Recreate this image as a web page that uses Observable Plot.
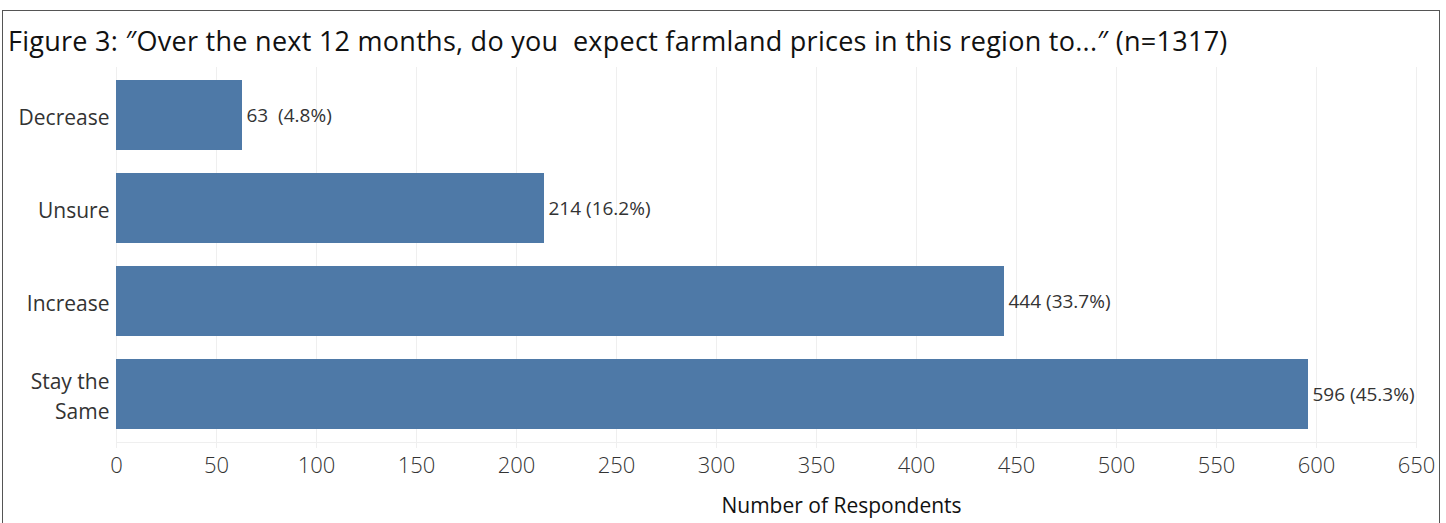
<!DOCTYPE html>
<html>
<head>
<meta charset="utf-8">
<script src="https://cdn.jsdelivr.net/npm/d3@7"></script>
<script src="https://cdn.jsdelivr.net/npm/@observablehq/plot@0.6"></script>
<style>
  html, body { margin: 0; padding: 0; background: #fff; overflow: hidden; }
  body { width: 1446px; height: 523px; position: relative; font-family: "Open Sans", sans-serif; }
  #box { position: absolute; left: 2px; top: 10px; width: 1438px; height: 600px; border: 1.5px solid #555; box-sizing: border-box; }
  #title { position: absolute; left: 5px; top: 11px; font-size: 27px; color: #111; white-space: pre; letter-spacing: 0.27px; }
  #chart { position: absolute; left: 0; top: 65px; }
</style>
</head>
<body>
<div id="box"><div id="title"></div></div>
<div id="chart"></div>
<script>
const titleText = "Figure 3: ″Over the next 12 months, do you  expect farmland prices in this region to...″ (n=1317)";
const categories = ["Decrease", "Unsure", "Increase", "Stay the Same"];
const categoryLabels = ["Decrease", "Unsure", "Increase", "Stay the\nSame"];
const counts = [63, 214, 444, 596];
const percents = ["4.8%", "16.2%", "33.7%", "45.3%"];
const valueLabels = ["63\u00a0 (4.8%)", "214 (16.2%)", "444 (33.7%)", "596 (45.3%)"];
const xTicks = [0, 50, 100, 150, 200, 250, 300, 350, 400, 450, 500, 550, 600, 650];
const xLabel = "Number of Respondents";

document.getElementById("title").textContent = titleText;

const data = categories.map((c, i) => ({category: c, count: counts[i], label: valueLabels[i]}));
const labelMap = new Map(categories.map((c, i) => [c, categoryLabels[i]]));

const chart = Plot.plot({
  width: 1446,
  height: 458,
  marginLeft: 116,
  marginRight: 30,
  marginTop: 2,
  marginBottom: 81,
  style: { fontFamily: "Open Sans, sans-serif", color: "#333", background: "transparent" },
  x: { domain: [0, 650], ticks: xTicks },
  y: { domain: categories, paddingInner: 0.25, paddingOuter: 0.125, align: 0.5 },
  marks: [
    Plot.ruleX(xTicks, { stroke: "#efefef", strokeWidth: 1, insetBottom: -6 }),
    Plot.frame({ anchor: "bottom", stroke: "#efefef" }),
    Plot.barX(data, { y: "category", x: "count", fill: "#4e79a7" }),
    Plot.text(data, { y: "category", x: "count", text: "label", textAnchor: "start", dx: 4, fontSize: 19, fill: "#333" }),
    Plot.axisX({ ticks: xTicks, tickSize: 0, tickPadding: 15, fontSize: 22, fill: "#333", label: null, fontWeight: 300 }),
    Plot.axisY({ tickSize: 0, tickPadding: 7, fontSize: 21, fill: "#333", label: null, tickFormat: d => labelMap.get(d), lineHeight: 1.4 }),
    Plot.text([xLabel], { frameAnchor: "bottom", dx: 75, dy: 70, fontSize: 21, fill: "#111" })
  ]
});
document.getElementById("chart").appendChild(chart);
</script>
</body>
</html>
